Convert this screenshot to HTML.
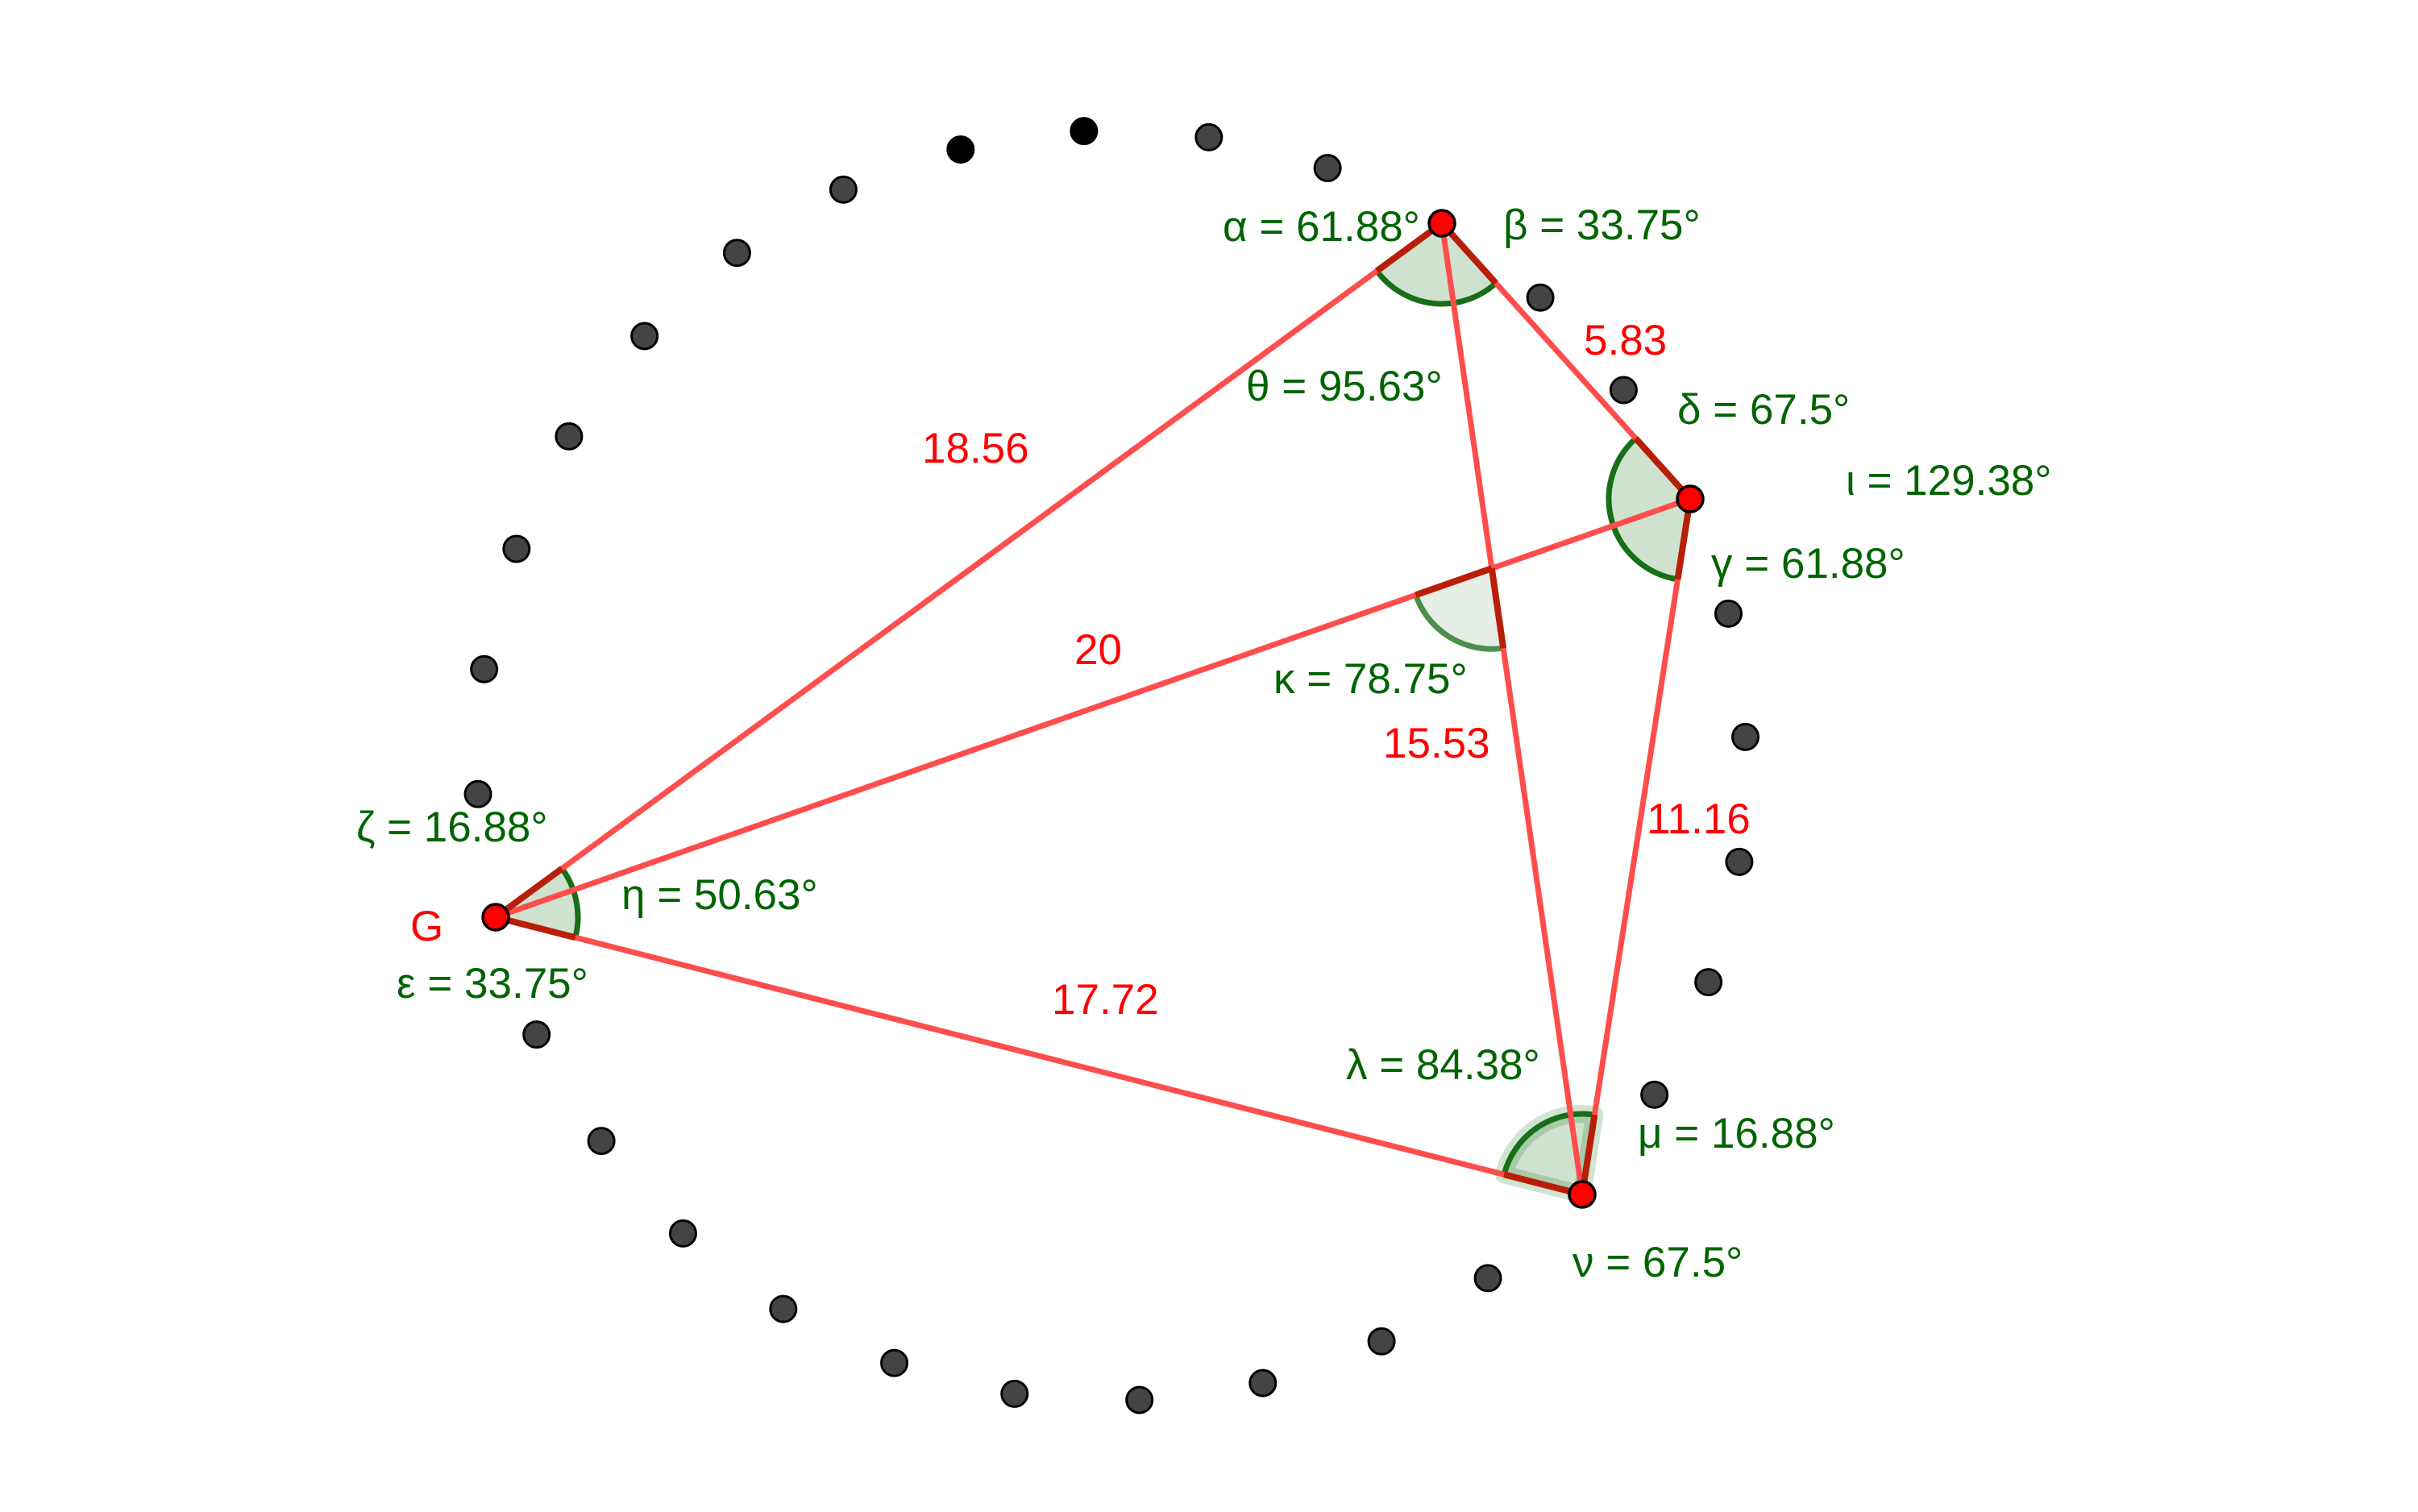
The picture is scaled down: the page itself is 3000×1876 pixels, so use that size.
<!DOCTYPE html>
<html><head><meta charset="utf-8"><style>
html,body{margin:0;padding:0;background:#fff;}
svg{display:block}
text{font-family:"Liberation Sans",sans-serif;font-size:53px;}
.g{fill:#006400}.r{fill:#ff0000}
</style></head><body>
<svg id="s" width="3000" height="1876" viewBox="0 0 3000 1876" xmlns="http://www.w3.org/2000/svg">
<g id="dots" fill="#444" stroke="#000" stroke-width="3"></g>
<g id="arcs"></g>
<g id="lines" stroke="#ff4d4d" stroke-width="7" stroke-linecap="round"></g>
<g id="rad" stroke="#b81e0a" stroke-width="8" stroke-linecap="butt"></g>
<g id="pts" fill="#ff0000" stroke="#000" stroke-width="3.5"></g>
<text class="g" x="1517" y="299">α = 61.88°</text>
<text class="g" x="1865" y="297">β = 33.75°</text>
<text class="r" x="1965" y="440">5.83</text>
<text class="g" x="1546" y="497">θ = 95.63°</text>
<text class="g" x="2081" y="526">δ = 67.5°</text>
<text class="g" x="2290" y="614">ι = 129.38°</text>
<text class="r" x="1144" y="574">18.56</text>
<text class="g" x="2123" y="717">γ = 61.88°</text>
<text class="r" x="1333" y="824">20</text>
<text class="g" x="1580" y="860">κ = 78.75°</text>
<text class="r" x="1716" y="940">15.53</text>
<text class="r" x="2043" y="1034">11.16</text>
<text class="g" x="442" y="1044">ζ = 16.88°</text>
<text class="g" x="771" y="1128">η = 50.63°</text>
<text class="r" x="509" y="1167">G</text>
<text class="g" x="492" y="1238">ε = 33.75°</text>
<text class="r" x="1305" y="1258">17.72</text>
<text class="g" x="1670" y="1339">λ = 84.38°</text>
<text class="g" x="2032" y="1424">μ = 16.88°</text>
<text class="g" x="1951" y="1584">ν = 67.5°</text>
</svg>
<script>
var NS="http://www.w3.org/2000/svg";
function el(p,t,a){var e=document.createElementNS(NS,t);for(var k in a)e.setAttribute(k,a[k]);document.getElementById(p).appendChild(e);return e;}
var S=1.913;
var d=[[623,97,1],[703,85,1],[784,89],[861,109],[999,193],[1053,253],[1121,398],[1132,478],[1128,559],[1108,637],[1073,710],[965,829],[896,870],[819,897],[739,908],[658,904],[580,884],[508,849],[443,800],[390,740],[348,671],[310,515],[314,434],[335,356],[369,283],[418,218],[478,164],[547,123]];
d.forEach(function(p){el("dots","circle",{cx:p[0]*S,cy:p[1]*S,r:16,fill:p[2]?"#000":"#444"});});
var A=[1789,277],D=[2097,619],V=[1963,1482],G=[615,1138];
[[G,A],[G,D],[G,V],[A,V],[A,D],[D,V]].forEach(function(l){el("lines","line",{x1:l[0][0],y1:l[0][1],x2:l[1][0],y2:l[1][1]});});
function ang(P,Q){return Math.atan2(Q[1]-P[1],Q[0]-P[0]);}
function sector(C,a1,a2,r,fill,stroke,halo){
  var da=a2-a1; while(da<0)da+=2*Math.PI; while(da>2*Math.PI)da-=2*Math.PI;
  var x1=C[0]+r*Math.cos(a1),y1=C[1]+r*Math.sin(a1),x2=C[0]+r*Math.cos(a1+da),y2=C[1]+r*Math.sin(a1+da);
  var lg=da>Math.PI?1:0;
  var dp="M"+C[0]+","+C[1]+"L"+x1+","+y1+"A"+r+","+r+" 0 "+lg+" 1 "+x2+","+y2+"Z";
  if(halo) el("arcs","path",{d:dp,fill:"none",stroke:"rgba(0,100,0,0.18)","stroke-width":22,"stroke-linejoin":"round"});
  el("arcs","path",{d:dp,fill:fill,stroke:"none"});
  el("arcs","path",{d:"M"+x1+","+y1+"A"+r+","+r+" 0 "+lg+" 1 "+x2+","+y2,fill:"none",stroke:stroke,"stroke-width":7});
  el("rad","line",{x1:C[0],y1:C[1],x2:x1,y2:y1});
  el("rad","line",{x1:C[0],y1:C[1],x2:x2,y2:y2});
}
var F="rgba(0,100,0,0.19)";
sector(A,ang(A,D),ang(A,G),100,F,"#176f17");
sector(D,ang(D,V),ang(D,A)+2*Math.PI,101,F,"#176f17");
sector(G,ang(G,A),ang(G,V),102,F,"#176f17");
sector(V,ang(V,G),ang(V,D),100,F,"#176f17",true);
function inter(P1,P2,P3,P4){var x1=P1[0],y1=P1[1],x2=P2[0],y2=P2[1],x3=P3[0],y3=P3[1],x4=P4[0],y4=P4[1];var den=(x1-x2)*(y3-y4)-(y1-y2)*(x3-x4);var t=((x1-x3)*(y3-y4)-(y1-y3)*(x3-x4))/den;return[x1+t*(x2-x1),y1+t*(y2-y1)];}
var K=inter(G,D,A,V);
sector(K,ang(K,V),ang(K,G),100,"rgba(0,100,0,0.1)","#4c8f4c");
[A,D,V,G].forEach(function(p){el("pts","circle",{cx:p[0],cy:p[1],r:16});});
</script>
</body></html>
